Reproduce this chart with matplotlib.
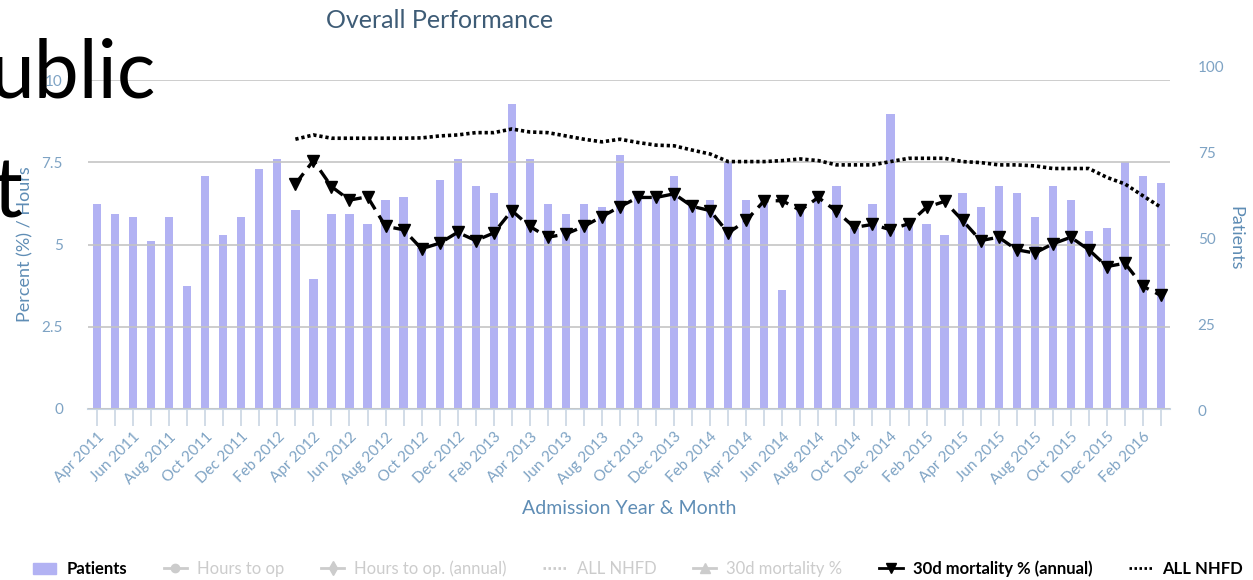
import matplotlib
matplotlib.use('Agg')
import matplotlib.pyplot as plt
import pandas as pd
import numpy as np
from matplotlib.lines import Line2D
from matplotlib.patches import Patch

plt.rcParams['font.family'] = ['Lato', 'DejaVu Sans']

# months Apr 2011 .. Mar 2016
meses = pd.date_range('2011-04-01', periods=60, freq='MS').strftime('%b %Y').tolist()

pacientes = [60, 57, 56, 49, 56, 36, 68, 51, 56, 70,
             73, 58, 38, 57, 57, 54, 61, 62, 47, 67,
             73, 65, 63, 89, 73, 60, 57, 60, 59, 74,
             62, 62, 68, 61, 61, 72, 61, 61, 35, 60,
             62, 65, 53, 60, 86, 54, 54, 51, 63, 59,
             65, 63, 56, 65, 61, 52, 53, 72, 68, 66]

# series start at Mar 2012 (index 11)
inicio = 11
mortalidade_anual = [6.84, 7.55, 6.76, 6.35, 6.45, 5.55, 5.45, 4.87, 5.04,
                     5.37, 5.12, 5.35, 6.03, 5.55, 5.22, 5.32, 5.55, 5.85, 6.15,
                     6.43, 6.43, 6.54, 6.16, 6.03, 5.35, 5.73, 6.33, 6.33, 6.04,
                     6.43, 6.01, 5.52, 5.61, 5.45, 5.63, 6.13, 6.31, 5.73, 5.12,
                     5.22, 4.84, 4.74, 5.02, 5.22, 4.84, 4.33, 4.43, 3.73, 3.45]

all_nhfd = [8.20, 8.33, 8.23, 8.23, 8.23, 8.23, 8.23, 8.24, 8.30,
            8.33, 8.40, 8.40, 8.51, 8.42, 8.40, 8.30, 8.20, 8.12, 8.20,
            8.10, 8.02, 8.00, 7.87, 7.75, 7.52, 7.52, 7.52, 7.55, 7.60,
            7.55, 7.42, 7.42, 7.42, 7.52, 7.62, 7.62, 7.62, 7.52, 7.49,
            7.42, 7.42, 7.39, 7.31, 7.31, 7.31, 7.04, 6.84, 6.48, 6.13]

cor_barra = '#b2b2f3'
cor_tick = '#7ea3c4'
cor_label = '#5f8db5'
cor_grade = '#c4c4c4'

W, H = 1253, 580
fig = plt.figure(figsize=(W / 100, H / 100), dpi=100)

def caixa(x0, x1, ytop, ybot):
    return [x0 / W, 1 - ybot / H, (x1 - x0) / W, (ybot - ytop) / H]

# right axis (patients) - slightly taller than the left one
ax2 = fig.add_axes(caixa(88, 1170, 66, 410))
x = np.arange(len(meses))
ax2.bar(x, pacientes, width=0.46, color=cor_barra, zorder=1)
ax2.set_xlim(-0.5, len(meses) - 0.5)
ax2.set_ylim(0, 100)
ax2.yaxis.tick_right()
ax2.yaxis.set_label_position('right')
ax2.set_yticks([0, 25, 50, 75, 100])
ax2.tick_params(axis='y', length=0, labelsize=11, labelcolor=cor_tick, pad=20)
ax2.set_xticks([])
for s in ax2.spines.values():
    s.set_visible(False)
ax2.set_ylabel('Patients', color=cor_label, fontsize=13, rotation=-90, labelpad=14)

# left axis (percent / hours)
ax = fig.add_axes(caixa(88, 1170, 80, 409))
ax.patch.set_alpha(0)
ax.set_xlim(-0.5, len(meses) - 0.5)
ax.set_ylim(0, 10)
ax.set_yticks([0, 2.5, 5, 7.5, 10])
ax.set_yticklabels(['0', '2.5', '5', '7.5', '10'])
ax.grid(axis='y', color=cor_grade, linewidth=1.4, alpha=0.85)
ax.set_axisbelow(False)
for nome, s in ax.spines.items():
    s.set_visible(nome == 'bottom')
ax.spines['bottom'].set_color('#c9d6e3')
ax.spines['bottom'].set_linewidth(1.5)
ax.tick_params(axis='y', length=0, labelsize=11, labelcolor=cor_tick, pad=18)

ax.set_xticks(x[::2])
ax.set_xticklabels(meses[::2], rotation=45, ha='right', rotation_mode='anchor')
ax.set_xticks(x, minor=True)
ax.tick_params(axis='x', which='both', length=12, color='#c9d6e3', width=1.2,
               labelsize=11, labelcolor=cor_tick, pad=3)

xs = x[inicio:]
ax.plot(xs, mortalidade_anual, color='black', linewidth=2.4, dashes=(4, 2.2),
        marker='v', markersize=8, zorder=5)
ax.plot(xs, all_nhfd, color='black', linewidth=2.6, dashes=(0.9, 0.8), zorder=5)

ax.set_ylabel('Percent (%) / Hours', color=cor_label, fontsize=13, labelpad=6)
ax.set_xlabel('Admission Year & Month', color=cor_label, fontsize=14, labelpad=10)

fig.text(440 / W, 1 - 21 / H, 'Overall Performance', ha='center', va='center',
         fontsize=18, color='#3e5c76')

# overlapping slide text
fig.text(156 / W, 1 - 98 / H, 'ublic', ha='right', va='baseline',
         fontsize=58, color='black')
fig.text(22 / W, 1 - 218 / H, 't', ha='right', va='baseline',
         fontsize=60, color='black')

cinza = '#cccccc'
alcas = [
    Patch(color=cor_barra),
    Line2D([], [], color=cinza, marker='o', markersize=6, linewidth=2),
    Line2D([], [], color=cinza, marker='d', markersize=7, linewidth=2),
    Line2D([], [], color=cinza, linewidth=2, dashes=(0.9, 0.9)),
    Line2D([], [], color=cinza, marker='^', markersize=7, linewidth=2),
    Line2D([], [], color='black', marker='v', markersize=7, linewidth=2),
    Line2D([], [], color='black', linewidth=2, dashes=(0.9, 0.9)),
]
nomes = ['Patients', 'Hours to op', 'Hours to op. (annual)', 'ALL NHFD',
         '30d mortality %', '30d mortality % (annual)', 'ALL NHFD']
leg = fig.legend(alcas, nomes, loc='center', bbox_to_anchor=(638 / W, 1 - 569 / H),
                 ncol=7, frameon=False, fontsize=12, handlelength=1.4,
                 handletextpad=0.6, columnspacing=2.2)
for i, t in enumerate(leg.get_texts()):
    if i in (0, 5, 6):
        t.set_color('black')
        t.set_fontweight('bold')
    else:
        t.set_color(cinza)

fig.savefig('out.png', dpi=100)
